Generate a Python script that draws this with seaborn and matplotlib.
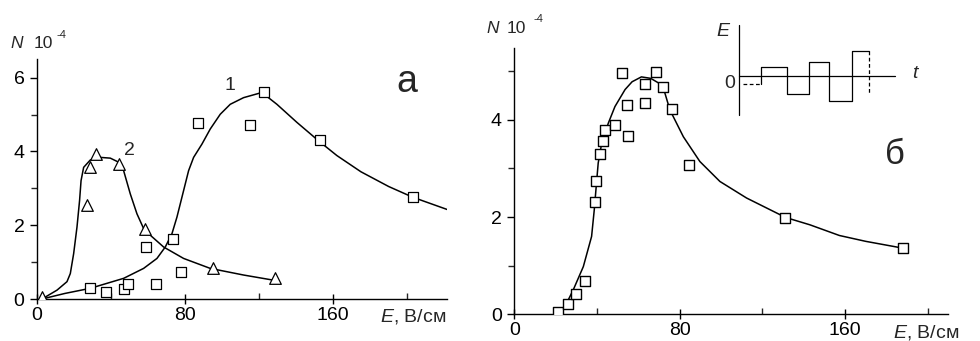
import matplotlib
matplotlib.use('Agg')
import matplotlib.pyplot as plt
import seaborn as sns
from matplotlib.ticker import MultipleLocator

# --- panel а: curve 1 (squares) and curve 2 (triangles)
sq1_x = [28.8, 37.1, 47.2, 48.9, 64.3, 59.0, 73.5, 77.6, 87.2, 115.3, 122.7, 153.1, 203.1]
sq1_y = [0.29, 0.18, 0.27, 0.40, 0.42, 1.41, 1.64, 0.72, 4.78, 4.71, 5.60, 4.30, 2.76]
fit1_x = [2.7, 15, 28.8, 46.8, 57.6, 64.8, 69.3, 72.9, 75.6, 79.2, 81.9, 84.6, 89.1, 93.6,
          99, 104.4, 111.6, 121.5, 129.6, 140.4, 152.1, 162, 175, 190, 203, 222]
fit1_y = [0.0, 0.15, 0.29, 0.56, 0.83, 1.10, 1.41, 1.77, 2.22, 2.94, 3.48, 3.84, 4.20, 4.61,
          5.01, 5.28, 5.46, 5.60, 5.28, 4.79, 4.29, 3.89, 3.45, 3.05, 2.76, 2.42]

tri2_x = [2.9, 26.8, 28.4, 32.0, 44.3, 58.1, 95.0, 128.7]
tri2_y = [0.06, 2.54, 3.59, 3.94, 3.67, 1.90, 0.85, 0.57]
fit2_x = [2.7, 10.8, 16.2, 18.0, 19.8, 21.6, 23.0, 23.8, 25.2, 28.8, 34.2, 39.6, 44.1, 46.8,
          50.4, 54.0, 57.6, 61.2, 68.4, 79.2, 93.6, 111.6, 127.8]
fit2_y = [0.0, 0.24, 0.47, 0.69, 1.23, 1.95, 2.67, 3.21, 3.57, 3.77, 3.84, 3.82, 3.71, 3.48,
          2.85, 2.31, 1.91, 1.73, 1.41, 1.10, 0.83, 0.65, 0.51]

# --- panel б
sq3_x = [21.1, 26.2, 29.9, 34.3, 39.0, 39.4, 41.4, 43.0, 44.0, 48.8, 52.0, 54.6, 55.1,
         63.3, 63.1, 68.7, 72.0, 76.3, 84.5, 131.1, 187.9]
sq3_y = [0.04, 0.22, 0.41, 0.69, 2.31, 2.73, 3.29, 3.57, 3.79, 3.89, 4.97, 4.31, 3.67,
         4.74, 4.34, 4.99, 4.68, 4.23, 3.07, 1.98, 1.36]
fit3_x = [21.3, 23.7, 28.5, 33.4, 37.4, 38.7, 39.5, 40.6, 42.3, 45.5, 48.7, 53.6, 57.0, 61.5,
          66.0, 70.0, 72.5, 75.3, 81.8, 89.8, 99.5, 112.4, 131.3, 143.0, 157.3, 170, 188]
fit3_y = [0.0, 0.09, 0.50, 0.98, 1.60, 2.15, 2.56, 3.11, 3.52, 3.93, 4.27, 4.62, 4.78, 4.88,
          4.85, 4.75, 4.60, 4.20, 3.65, 3.14, 2.73, 2.39, 1.99, 1.84, 1.62, 1.50, 1.36]

# inset: field pulses E(t), arbitrary units
pulse_t = [21.3, 48, 69.3, 89.3, 112.7, 130]
pulse_e = [9, -17.7, 14, -24.7, 25.3]
pre_t = [3.3, 21.3]
pre_e = [-8.3, -8.3]

W, H = 980, 341


def px(x, y):
    return x / W, 1 - y / H


sns.set_theme(style='ticks')
plt.rcParams['font.family'] = ['Liberation Sans', 'DejaVu Sans']
plt.rcParams['mathtext.fontset'] = 'custom'
plt.rcParams['mathtext.it'] = 'Liberation Sans:italic'
plt.rcParams['mathtext.rm'] = 'Liberation Sans'

fig = plt.figure(figsize=(W / 100, H / 100), dpi=100)
fig.patch.set_facecolor('white')

ax1 = fig.add_axes([37 / W, 1 - 299 / H, 410 / W, 239.7 / H])
ax2 = fig.add_axes([514.3 / W, 1 - 314.3 / H, 434 / W, 266.6 / H])

lw = 1.1
sns.lineplot(x=fit1_x, y=fit1_y, sort=False, estimator=None, color='black', lw=lw, ax=ax1)
sns.lineplot(x=fit2_x, y=fit2_y, sort=False, estimator=None, color='black', lw=lw, ax=ax1)
sns.scatterplot(x=sq1_x, y=sq1_y, marker='s', s=42, facecolor='white', edgecolor='black',
                linewidth=0.9, ax=ax1, zorder=3)
sns.scatterplot(x=tri2_x, y=tri2_y, marker='^', s=70, facecolor='white', edgecolor='black',
                linewidth=0.9, ax=ax1, zorder=3)

sns.lineplot(x=fit3_x, y=fit3_y, sort=False, estimator=None, color='black', lw=lw, ax=ax2)
sns.scatterplot(x=sq3_x, y=sq3_y, marker='s', s=50, facecolor='white', edgecolor='black',
                linewidth=1.0, ax=ax2, zorder=3)

for ax, xmax, ymax, yticks in [(ax1, 221.5, 6.5, [0, 2, 4, 6]), (ax2, 210, 5.48, [0, 2, 4])]:
    ax.set_xlim(0, xmax)
    ax.set_ylim(0, ymax)
    ax.set_facecolor('none')
    ax.set_xticks([0, 80, 160])
    ax.set_yticks(yticks)
    ax.xaxis.set_minor_locator(MultipleLocator(40))
    ax.yaxis.set_minor_locator(MultipleLocator(1))
    sns.despine(ax=ax)
    for s in ['left', 'bottom']:
        ax.spines[s].set_linewidth(1.0)
        ax.spines[s].set_color('black')
    ax.tick_params(axis='x', which='major', direction='inout', length=7, width=1,
                   labelsize=14, pad=2, colors='black')
    ax.tick_params(axis='x', which='minor', direction='in', length=4, width=1)
    ax.tick_params(axis='y', which='major', direction='out', length=5, width=1,
                   labelsize=14, pad=4, colors='black')
    ax.tick_params(axis='y', which='minor', direction='out', length=4, width=1)
    ax.set_xlabel('')
    ax.set_ylabel('')

# axis captions
fig.text(*px(10, 48), '$N$', fontsize=12.5, va='baseline')
fig.text(*px(34, 48), '10', fontsize=12.5, va='baseline')
fig.text(*px(56, 38), '-4', fontsize=8, va='baseline')
fig.text(*px(486, 33), '$N$', fontsize=12.5, va='baseline')
fig.text(*px(507, 33), '10', fontsize=12.5, va='baseline')
fig.text(*px(534, 22), '-4', fontsize=8, va='baseline')

fig.text(*px(380, 317), '$E$, В/см', fontsize=14, va='center')
fig.text(*px(893, 333), '$E$, В/см', fontsize=14, va='center')

# curve labels and panel letters
fig.text(*px(230, 85), '1', fontsize=14, ha='center', va='center')
fig.text(*px(129, 150), '2', fontsize=14, ha='center', va='center')
fig.text(*px(407, 82), 'а', fontsize=27, ha='center', va='center')
fig.text(*px(895, 154), 'б', fontsize=25, ha='center', va='center')

# inset with the pulse sequence
axi = fig.add_axes([735 / W, 1 - 120 / H, 165 / W, 100 / H])
axi.set_xlim(-4.3, 160.7)
axi.set_ylim(-44, 56)
axi.axis('off')
axi.plot([0, 0], [-39, 51], color='black', lw=0.9)
axi.plot([0, 155.7], [0, 0], color='black', lw=0.9)
axi.plot(pre_t, pre_e, color='black', lw=0.9, ls=(0, (3, 2)))
step_x = [pulse_t[0]]
step_y = [pre_e[-1]]
for i, e in enumerate(pulse_e):
    step_x += [pulse_t[i], pulse_t[i + 1]]
    step_y += [e, e]
axi.plot(step_x, step_y, color='black', lw=0.9)
axi.plot([pulse_t[-1], pulse_t[-1]], [pulse_e[-1], -18], color='black', lw=0.9, ls=(0, (3, 2)))
fig.text(*px(724, 32), '$E$', fontsize=14, ha='center', va='center')
fig.text(*px(729.5, 83.5), '0', fontsize=14, ha='center', va='center')
fig.text(*px(916, 74), '$t$', fontsize=14, ha='center', va='center')

fig.savefig('out.png', dpi=100)
